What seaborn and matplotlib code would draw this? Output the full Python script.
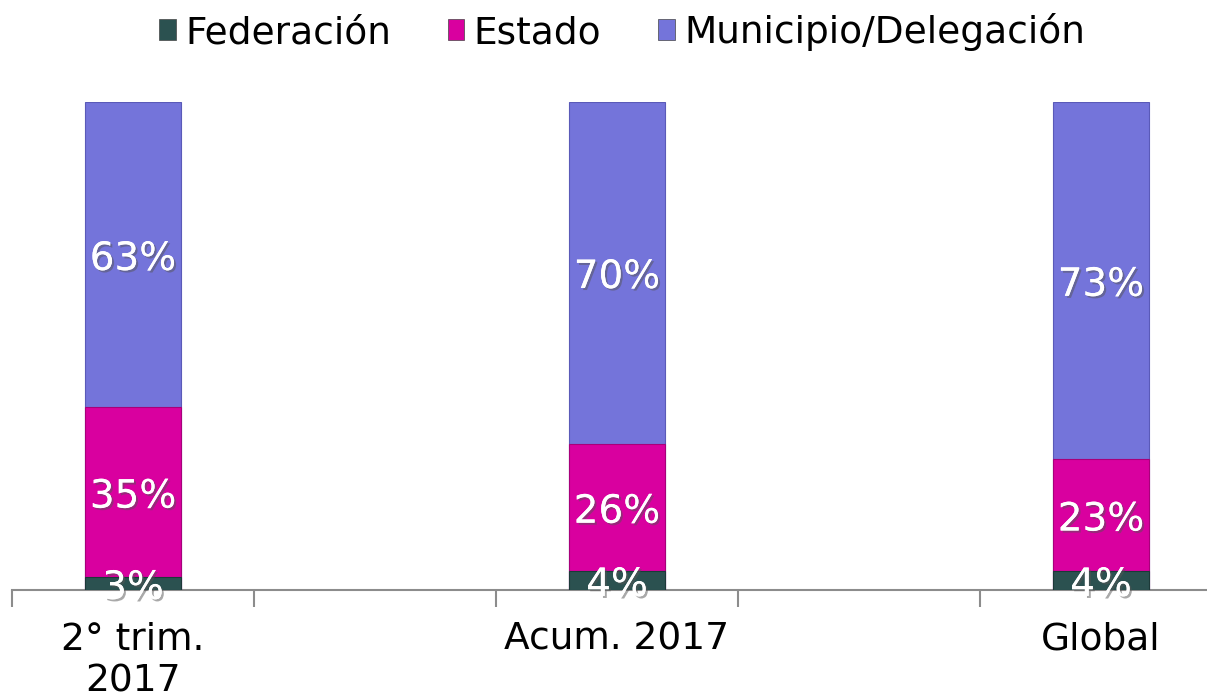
import pandas as pd
import numpy as np
import matplotlib.pyplot as plt
import seaborn as sns
from matplotlib.patches import Patch
import matplotlib.patheffects as pe

# data (percent of total)
categories = ["2° trim.\n2017", "Acum. 2017", "Global"]
federacion = [2.6, 3.8, 3.8]
estado = [34.8, 26.2, 23.0]
municipio = [62.6, 70.0, 73.2]
series_names = ["Federación", "Estado", "Municipio/Delegación"]
colors = ["#2b5150", "#d9009f", "#7474da"]

# empty slots between the real categories, like in the original chart
slots = [categories[0], "gap1", categories[1], "gap2", categories[2]]

df = pd.DataFrame({"cat": categories, "fed": federacion, "est": estado, "mun": municipio})
df["top_est"] = df["fed"] + df["est"]
df["top_mun"] = df["top_est"] + df["mun"]

sns.set_style("white")
plt.rcParams['font.family'] = ['DejaVu Sans']

fig = plt.figure(figsize=(12.07, 6.98), dpi=100)
ax = fig.add_axes([12/1207, 108/698, 1195/1207, 488/698])

# stacked bars: draw cumulative totals back to front
sns.barplot(data=df, x="cat", y="top_mun", order=slots, color=colors[2], width=0.4,
            saturation=1, edgecolor="#5a5ab8", linewidth=0.8, ax=ax)
sns.barplot(data=df, x="cat", y="top_est", order=slots, color=colors[1], width=0.4,
            saturation=1, edgecolor="#a8007a", linewidth=0.8, ax=ax)
sns.barplot(data=df, x="cat", y="fed", order=slots, color=colors[0], width=0.4,
            saturation=1, edgecolor="#1c3938", linewidth=0.8, ax=ax)

# segment labels in the middle of each piece
shadow = [pe.withSimplePatchShadow(offset=(1.5, -1.5), shadow_rgbFace="#555555", alpha=0.5), pe.Normal()]
for i, c in enumerate(categories):
    xpos = slots.index(c)
    segs = [(federacion[i], 0), (estado[i], federacion[i]), (municipio[i], federacion[i] + estado[i])]
    for v, b in segs:
        ax.annotate(f"{v:.0f}%", (xpos, b + v / 2), xytext=(0, -3), textcoords="offset points",
                    ha="center", va="center", color="white", fontsize=28, zorder=5,
                    path_effects=shadow)

ax.set_xlabel("")
ax.set_ylabel("")
ax.set_yticks([])
for s in ["top", "left", "right"]:
    ax.spines[s].set_visible(False)
ax.spines["bottom"].set_color("#8c8c8c")
ax.spines["bottom"].set_linewidth(1.5)
ax.spines["bottom"].set_zorder(0.5)

ax.set_xticks(range(len(slots)))
ax.set_xticklabels([s if s in categories else "" for s in slots], color="black")
ax.set_xticks(np.arange(-0.5, len(slots), 1.0), minor=True)
ax.tick_params(axis="x", which="both", bottom=True)
ax.tick_params(axis="x", which="major", length=0, pad=23, labelsize=27)
ax.tick_params(axis="x", which="minor", length=12, width=1.5, color="#8c8c8c", direction="out")
for t in ax.get_xticklabels():
    t.set_linespacing(1.2)

# limits last, set_xticks would widen them
ax.set_ylim(0, 100)
ax.set_xlim(-0.5, -0.5 + 1195 / 242)

handles = [Patch(facecolor=col, edgecolor="#444444", linewidth=0.5) for col in colors]
leg = fig.legend(handles, series_names, loc="center", bbox_to_anchor=(622 / 1207, 1 - 32 / 698), ncol=3,
                 frameon=False, fontsize=27, handlelength=0.45, handleheight=0.5,
                 handletextpad=0.25, columnspacing=1.5)
for t in leg.get_texts():
    t.set_color("black")

fig.savefig("out.png", dpi=100)
